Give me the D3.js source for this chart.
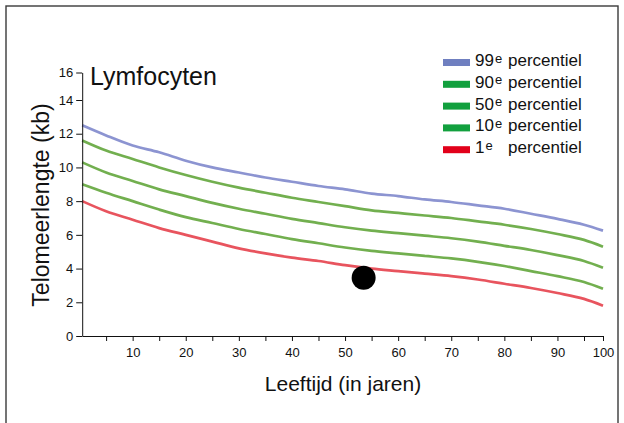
<!DOCTYPE html>
<html>
<head>
<meta charset="utf-8">
<script src="https://d3js.org/d3.v7.min.js"></script>
<style>
  body { margin: 0; background: #fff; }
  text { font-family: "Liberation Sans", Arial, sans-serif; }
</style>
</head>
<body>
<svg id="chart"></svg>
<script>
// ages along the x axis
var ages = [0.5, 5, 10, 15, 20, 25, 30, 35, 40, 45, 50, 55, 60, 65, 70, 75, 80, 85, 90, 95, 100];

// telomere length (kb) per percentile
var p99 = [12.5, 11.9, 11.3, 10.9, 10.4, 10.0, 9.7, 9.4, 9.15, 8.9, 8.7, 8.45, 8.3, 8.1, 7.95, 7.75, 7.55, 7.25, 6.95, 6.6, 6.25];
var p90 = [11.6, 11.0, 10.5, 10.0, 9.55, 9.15, 8.8, 8.5, 8.2, 7.95, 7.7, 7.45, 7.3, 7.15, 7.0, 6.8, 6.6, 6.35, 6.05, 5.7, 5.3];
var p50 = [10.3, 9.7, 9.2, 8.7, 8.3, 7.9, 7.55, 7.25, 6.95, 6.7, 6.45, 6.25, 6.1, 5.95, 5.8, 5.6, 5.35, 5.1, 4.8, 4.45, 4.05];
var p10 = [9.0, 8.5, 8.0, 7.5, 7.05, 6.7, 6.35, 6.05, 5.75, 5.5, 5.25, 5.05, 4.9, 4.75, 4.6, 4.4, 4.15, 3.85, 3.55, 3.2, 2.8];
var p1  = [8.0, 7.4, 6.9, 6.4, 6.0, 5.6, 5.2, 4.9, 4.65, 4.45, 4.2, 4.0, 3.85, 3.7, 3.55, 3.35, 3.1, 2.85, 2.55, 2.2, 1.8];

// the single measured patient
var patient = [{ age: 53.5, kb: 3.45 }];

var xTicks = [5, 10, 15, 20, 25, 30, 35, 40, 45, 50, 55, 60, 65, 70, 75, 80, 85, 90, 95, 100];
var yTicks = [0, 2, 4, 6, 8, 10, 12, 14, 16];

var series = [
  { label: "99", sup: "e", values: p99, line: "#8088cc", key: "#6f7fc0" },
  { label: "90", sup: "e", values: p90, line: "#63a63c", key: "#12a03e" },
  { label: "50", sup: "e", values: p50, line: "#63a63c", key: "#12a03e" },
  { label: "10", sup: "e", values: p10, line: "#63a63c", key: "#12a03e" },
  { label: "1",  sup: "e", values: p1,  line: "#e5414c", key: "#e2001a" }
];

var W = 624, H = 423;

var svg = d3.select("#chart")
  .attr("width", W)
  .attr("height", H);

// frame round the figure (bottom runs off the page)
svg.append("rect")
  .attr("x", 6).attr("y", 6)
  .attr("width", 612).attr("height", 480)
  .attr("fill", "none")
  .attr("stroke", "#3a3a3a")
  .attr("stroke-width", 1.4);

// the original axis is not quite uniform at the ends
var x = d3.scaleLinear()
  .domain([0.5, 95, 100])
  .range([82.2, 584, 603]);

var y = d3.scaleLinear()
  .domain([0, 14, 16])
  .range([336, 100, 72.5]);

var line = d3.line()
  .x(function(d, i) { return x(ages[i]); })
  .y(function(d) { return y(d); })
  .curve(d3.curveMonotoneX);

svg.append("g").selectAll("path")
  .data(series)
  .enter().append("path")
    .attr("d", function(s) { return line(s.values); })
    .attr("fill", "none")
    .attr("stroke", function(s) { return s.line; })
    .attr("stroke-width", 2.7)
    .attr("stroke-opacity", 0.9);

svg.append("g").selectAll("circle")
  .data(patient)
  .enter().append("circle")
    .attr("cx", function(d) { return x(d.age); })
    .attr("cy", function(d) { return y(d.kb); })
    .attr("r", 12)
    .attr("fill", "#000");

// axes
var xAxis = d3.axisBottom(x)
  .tickValues(xTicks)
  .tickSize(5)
  .tickSizeOuter(0)
  .tickPadding(7)
  .tickFormat(function(d) { return d % 10 === 0 ? d : ""; });

svg.append("g")
  .attr("transform", "translate(0,336)")
  .call(xAxis);

var yAxis = d3.axisLeft(y)
  .tickValues(yTicks)
  .tickSize(6)
  .tickSizeOuter(0)
  .tickPadding(3);

svg.append("g")
  .attr("transform", "translate(82.2,0)")
  .call(yAxis);

svg.selectAll(".tick text")
  .attr("font-family", "Liberation Sans, Arial, sans-serif")
  .attr("font-size", 13)
  .attr("fill", "#111");
svg.selectAll(".domain, .tick line").attr("stroke", "#111");

// title and axis titles
svg.append("text")
  .attr("x", 90).attr("y", 85)
  .attr("font-size", 25)
  .attr("fill", "#111")
  .text("Lymfocyten");

svg.append("text")
  .attr("x", 343).attr("y", 391)
  .attr("text-anchor", "middle")
  .attr("font-size", 21)
  .attr("fill", "#111")
  .text("Leeftijd (in jaren)");

svg.append("text")
  .attr("transform", "translate(49,205) rotate(-90)")
  .attr("text-anchor", "middle")
  .attr("font-size", 23)
  .attr("fill", "#111")
  .text("Telomeerlengte (kb)");

// legend
var legend = svg.append("g").selectAll("g")
  .data(series)
  .enter().append("g")
    .attr("transform", function(d, i) { return "translate(443," + (66 + i * 21.8) + ")"; });

legend.append("rect")
  .attr("x", 0).attr("y", -7)
  .attr("width", 27).attr("height", 7)
  .attr("fill", function(d) { return d.key; });

var lt = legend.append("text")
  .attr("x", 32)
  .attr("font-size", 17)
  .attr("fill", "#111");
lt.append("tspan").text(function(d) { return d.label; });
lt.append("tspan")
  .attr("font-size", 13)
  .attr("dx", 1)
  .attr("dy", -3.5)
  .text(function(d) { return d.sup; });

legend.append("text")
  .attr("x", 65)
  .attr("font-size", 17)
  .attr("fill", "#111")
  .text("percentiel");
</script>
</body>
</html>
